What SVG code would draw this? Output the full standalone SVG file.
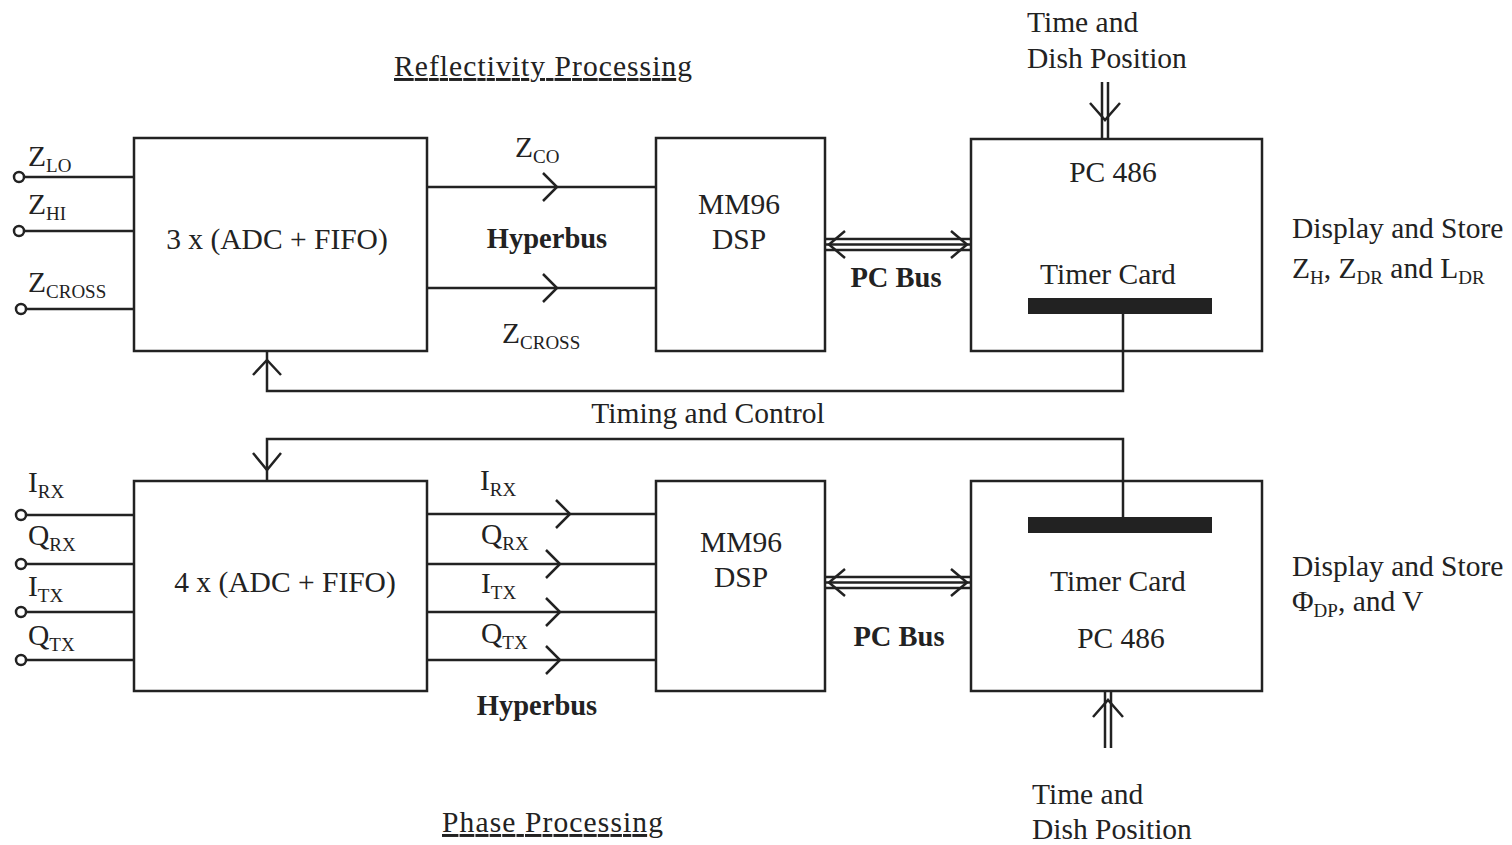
<svg xmlns="http://www.w3.org/2000/svg" width="1512" height="845" viewBox="0 0 1512 845">
<style>
.t{font-family:"Liberation Serif","Times New Roman",serif;font-size:29.5px;fill:#222}
.b{font-weight:bold;font-size:28.5px}
.s{font-size:19px}
.box{fill:none;stroke:#222;stroke-width:2.5}
.ln{fill:none;stroke:#222;stroke-width:2.5}
.ch{fill:none;stroke:#222;stroke-width:2.5;stroke-linejoin:miter}
.pin{fill:#fff;stroke:#222;stroke-width:2.5}
</style>
<rect width="1512" height="845" fill="#fff"/>
<g id="titles">
<text class="t" x="394" y="76" textLength="298" text-decoration="underline">Reflectivity Processing</text>
<text class="t" x="442" y="832" textLength="221" text-decoration="underline">Phase Processing</text>
</g>
<g id="adc-top">
<rect class="box" x="134" y="138" width="293" height="213"/>
<text class="t" x="277" y="249" text-anchor="middle">3 x (ADC + FIFO)</text>
</g>
<g id="dsp-top">
<rect class="box" x="656" y="138" width="169" height="213"/>
<text class="t" x="739" y="214" text-anchor="middle">MM96</text>
<text class="t" x="739" y="249" text-anchor="middle">DSP</text>
</g>
<g id="pc-top">
<rect class="box" x="971" y="139" width="291" height="212"/>
<text class="t" x="1113" y="182" text-anchor="middle">PC 486</text>
<text class="t" x="1108" y="284" text-anchor="middle">Timer Card</text>
<rect x="1028" y="298" width="184" height="16" fill="#222"/>
</g>
<g id="adc-bottom">
<rect class="box" x="134" y="481" width="293" height="210"/>
<text class="t" x="285" y="592" text-anchor="middle">4 x (ADC + FIFO)</text>
</g>
<g id="dsp-bottom">
<rect class="box" x="656" y="481" width="169" height="210"/>
<text class="t" x="741" y="552" text-anchor="middle">MM96</text>
<text class="t" x="741" y="587" text-anchor="middle">DSP</text>
</g>
<g id="pc-bottom">
<rect class="box" x="971" y="481" width="291" height="210"/>
<rect x="1028" y="517" width="184" height="16" fill="#222"/>
<text class="t" x="1118" y="591" text-anchor="middle">Timer Card</text>
<text class="t" x="1121" y="648" text-anchor="middle">PC 486</text>
</g>
<g id="inputs-top">
<line class="ln" x1="19" y1="177" x2="134" y2="177"/>
<line class="ln" x1="19" y1="231" x2="134" y2="231"/>
<line class="ln" x1="21" y1="309" x2="134" y2="309"/>
<circle class="pin" cx="19" cy="177" r="5"/>
<circle class="pin" cx="19" cy="231" r="5"/>
<circle class="pin" cx="21" cy="309" r="5"/>
<text class="t" x="28" y="166">Z<tspan class="s" dy="6">LO</tspan></text>
<text class="t" x="28" y="214">Z<tspan class="s" dy="6">HI</tspan></text>
<text class="t" x="28" y="292">Z<tspan class="s" dy="6">CROSS</tspan></text>
</g>
<g id="inputs-bottom">
<line class="ln" x1="21" y1="515" x2="134" y2="515"/>
<line class="ln" x1="21" y1="564" x2="134" y2="564"/>
<line class="ln" x1="21" y1="612" x2="134" y2="612"/>
<line class="ln" x1="21" y1="660" x2="134" y2="660"/>
<circle class="pin" cx="21" cy="515" r="5"/>
<circle class="pin" cx="21" cy="564" r="5"/>
<circle class="pin" cx="21" cy="612" r="5"/>
<circle class="pin" cx="21" cy="660" r="5"/>
<text class="t" x="28" y="492">I<tspan class="s" dy="6">RX</tspan></text>
<text class="t" x="28" y="545">Q<tspan class="s" dy="6">RX</tspan></text>
<text class="t" x="28" y="596">I<tspan class="s" dy="6">TX</tspan></text>
<text class="t" x="28" y="645">Q<tspan class="s" dy="6">TX</tspan></text>
</g>
<g id="connectors">
<line class="ln" x1="427" y1="187" x2="656" y2="187"/>
<polyline class="ch" points="543,173 557,187 543,201"/>
<line class="ln" x1="427" y1="288" x2="656" y2="288"/>
<polyline class="ch" points="543,274 557,288 543,302"/>
<text class="t" x="515" y="157">Z<tspan class="s" dy="6">CO</tspan></text>
<text class="t b" x="547" y="248" text-anchor="middle">Hyperbus</text>
<text class="t" x="502" y="343">Z<tspan class="s" dy="6">CROSS</tspan></text>
<line class="ln" x1="427" y1="514" x2="656" y2="514"/>
<polyline class="ch" points="556,500 570,514 556,528"/>
<line class="ln" x1="427" y1="564" x2="656" y2="564"/>
<polyline class="ch" points="546,550 560,564 546,578"/>
<line class="ln" x1="427" y1="612" x2="656" y2="612"/>
<polyline class="ch" points="546,598 560,612 546,626"/>
<line class="ln" x1="427" y1="660" x2="656" y2="660"/>
<polyline class="ch" points="546,646 560,660 546,674"/>
<text class="t" x="480" y="490">I<tspan class="s" dy="6">RX</tspan></text>
<text class="t" x="481" y="544">Q<tspan class="s" dy="6">RX</tspan></text>
<text class="t" x="481" y="593">I<tspan class="s" dy="6">TX</tspan></text>
<text class="t" x="481" y="643">Q<tspan class="s" dy="6">TX</tspan></text>
<text class="t b" x="537" y="715" text-anchor="middle">Hyperbus</text>
<line class="ln" x1="825" y1="239" x2="971" y2="239" stroke-width="1.8"/>
<line class="ln" x1="825" y1="244.5" x2="971" y2="244.5" stroke-width="3.5"/>
<line class="ln" x1="825" y1="250" x2="971" y2="250" stroke-width="1.8"/>
<polyline class="ch" points="845,231 829,244.5 845,258"/>
<polyline class="ch" points="951,231 967,244.5 951,258"/>
<text class="t b" x="896" y="287" text-anchor="middle">PC Bus</text>
<line class="ln" x1="825" y1="577" x2="971" y2="577" stroke-width="1.8"/>
<line class="ln" x1="825" y1="582.5" x2="971" y2="582.5" stroke-width="3.5"/>
<line class="ln" x1="825" y1="588" x2="971" y2="588" stroke-width="1.8"/>
<polyline class="ch" points="845,569 829,582.5 845,596"/>
<polyline class="ch" points="951,569 967,582.5 951,596"/>
<text class="t b" x="899" y="646" text-anchor="middle">PC Bus</text>
<line class="ln" x1="1102" y1="82" x2="1102" y2="139" stroke-width="2"/>
<line class="ln" x1="1108" y1="82" x2="1108" y2="139" stroke-width="2"/>
<polyline class="ch" points="1090,103 1105,120 1120,103"/>
<line class="ln" x1="1105" y1="691" x2="1105" y2="748" stroke-width="2"/>
<line class="ln" x1="1111" y1="691" x2="1111" y2="748" stroke-width="2"/>
<polyline class="ch" points="1093,717 1108,700 1123,717"/>
<polyline class="ln" points="1123,314 1123,391 267,391 267,351"/>
<polyline class="ch" points="253,375 267,360 281,375"/>
<polyline class="ln" points="1123,517 1123,439 267,439 267,481"/>
<polyline class="ch" points="253,453 267,470 281,453"/>
<text class="t" x="708" y="423" text-anchor="middle">Timing and Control</text>
</g>
<g id="labels">
<text class="t" x="1027" y="32">Time and</text>
<text class="t" x="1027" y="68">Dish Position</text>
<text class="t" x="1032" y="804">Time and</text>
<text class="t" x="1032" y="839">Dish Position</text>
<text class="t" x="1292" y="238">Display and Store</text>
<text class="t" x="1292" y="278">Z<tspan class="s" dy="6">H</tspan><tspan dy="-6">, Z</tspan><tspan class="s" dy="6">DR</tspan><tspan dy="-6"> and L</tspan><tspan class="s" dy="6">DR</tspan></text>
<text class="t" x="1292" y="576">Display and Store</text>
<text class="t" x="1292" y="611">Φ<tspan class="s" dy="6">DP</tspan><tspan dy="-6">, and V</tspan></text>
</g>
</svg>
